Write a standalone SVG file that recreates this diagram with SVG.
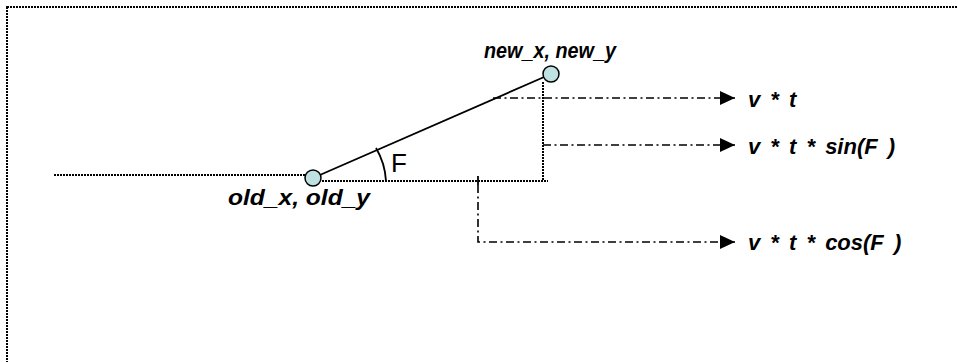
<svg xmlns="http://www.w3.org/2000/svg" width="958" height="362" viewBox="0 0 958 362">
<style>
.dot{fill:none;stroke:#000;stroke-width:2;stroke-dasharray:2 1}
.dd{fill:none;stroke:#000;stroke-width:1.6;stroke-dasharray:8 3.5 2 3.5}
.solid{fill:none;stroke:#000;stroke-width:1.8}
.pt{fill:#bfe1e1;stroke:#000;stroke-width:1.5}
.lbl{font-family:"Liberation Sans",Arial,sans-serif;font-weight:bold;font-style:italic;font-size:22px;fill:#000}
.eq{word-spacing:4px}
.ang{font-family:"Liberation Sans",Arial,sans-serif;font-size:26px;fill:#000}
</style>
<defs>
<marker id="ah" markerUnits="userSpaceOnUse" markerWidth="16" markerHeight="16" refX="15" refY="7" orient="auto">
<path d="M0,0 L15,7 L0,14 Z" fill="#000"/>
</marker>
</defs>
<rect x="7" y="7" width="1000" height="420" class="dot"/>
<g id="connectors">
<line x1="54" y1="175" x2="305" y2="175" class="dot"/>
<line x1="313" y1="178" x2="551" y2="74" class="solid"/>
<line x1="322" y1="181" x2="548" y2="181" class="dot"/>
<line x1="543" y1="82" x2="543" y2="181" class="dot"/>
<line x1="478" y1="176" x2="478" y2="185" class="solid" stroke-width="1.5"/>
<path d="M376,148 A72,72 0 0 1 386,181" class="solid" stroke-width="1.5"/>
<line x1="493" y1="98" x2="735" y2="98" class="dd" marker-end="url(#ah)"/>
<line x1="543" y1="145" x2="735" y2="145" class="dd" marker-end="url(#ah)"/>
<path d="M478,185 L478,242 L735,242" class="dd" marker-end="url(#ah)"/>
</g>
<g id="old">
<circle cx="313" cy="178" r="8" class="pt"/>
<text x="228" y="205" class="lbl" font-size="23" textLength="142" lengthAdjust="spacingAndGlyphs">old_x, old_y</text>
</g>
<g id="new">
<circle cx="551" cy="74" r="8" class="pt"/>
<text x="484" y="58" class="lbl" font-size="21" textLength="132" lengthAdjust="spacingAndGlyphs">new_x, new_y</text>
</g>
<g id="angle">
<text x="391" y="172" class="ang">F</text>
</g>
<g id="vt">
<text x="748" y="107" class="lbl eq">v * t</text>
</g>
<g id="vtsin">
<text x="748" y="154" class="lbl eq">v * t * sin(F )</text>
</g>
<g id="vtcos">
<text x="748" y="250" class="lbl eq">v * t * cos(F )</text>
</g>
</svg>
